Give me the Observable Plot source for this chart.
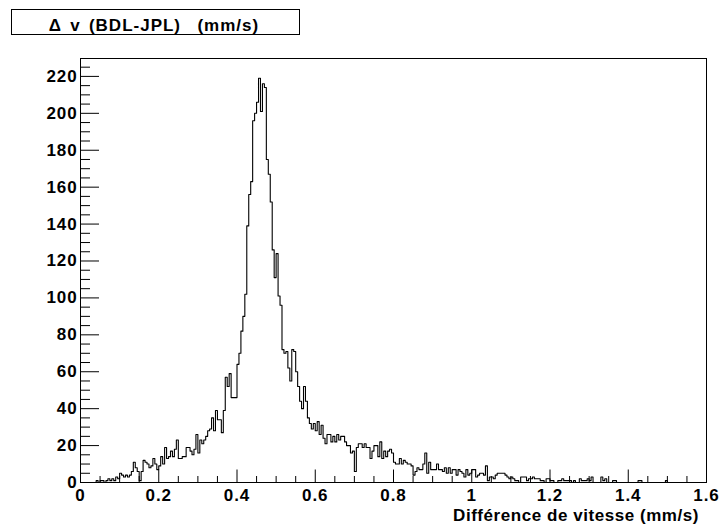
<!DOCTYPE html>
<html>
<head>
<meta charset="utf-8">
<script src="https://cdn.jsdelivr.net/npm/d3@7"></script>
<script src="https://cdn.jsdelivr.net/npm/@observablehq/plot@0.6"></script>
<style>
  html, body { margin: 0; padding: 0; background: #fff; }
  #wrap { position: relative; width: 719px; height: 531px; }
  #wrap svg.overlay { position: absolute; left: 0; top: 0; pointer-events: none; }
</style>
</head>
<body>
<div id="wrap"></div>
<script>
// Histogram: 320 bins of width 0.005 over [0, 1.6]
const binStart = 0;
const binWidth = 0.005;
const xMax = 1.6;
const yMax = 229.7;

const countsA = [ // bins 0-79
  0,0,0,0,0,0,0,0,1,0,
  1,1,0,1,2,1,2,1,3,2,
  5,4,3,4,3,4,6,11,8,6,
  1,6,12,11,10,8,9,13,10,7,
  9,14,10,19,13,14,17,14,18,23,
  13,13,14,14,19,19,17,15,18,26,
  16,23,21,23,25,28,29,35,28,39,
  34,34,27,39,57,52,59,46,46,46
];
const countsB = [ // bins 80-159
  64,70,82,90,102,139,156,163,196,200,
  206,219,201,216,214,175,167,152,126,111,
  124,101,96,72,70,71,62,55,72,71,
  60,52,44,40,52,44,35,32,29,32,
  28,33,26,31,24,21,26,26,22,25,
  22,26,23,25,25,22,20,20,16,17,
  6,19,21,21,19,21,19,19,13,17,
  20,20,14,22,13,17,14,17,18,16
];
const countsC = [ // bins 160-239
  11,10,10,13,10,12,11,10,10,9,
  4,6,8,7,7,10,16,5,11,7,
  7,7,10,7,7,6,8,5,8,5,
  7,7,4,7,6,5,3,7,4,5,
  7,7,3,4,5,5,4,9,1,3,
  3,2,4,5,5,5,5,4,3,2,
  3,2,1,1,0,3,3,3,1,2,
  2,3,2,2,2,1,1,0,2,2
];
const countsD = [ // bins 240-319
  1,1,0,0,1,1,2,1,1,1,
  1,0,1,0,0,2,1,1,1,2,
  1,3,0,0,0,0,3,1,2,0,
  0,0,1,1,0,0,0,0,0,0,
  0,0,0,0,0,1,1,0,0,0,
  0,0,0,0,0,0,0,0,0,1,
  0,0,0,0,0,0,0,0,0,0,
  0,0,0,0,0,0,0,0,0,0
];

const xMajor = [0, 0.2, 0.4, 0.6, 0.8, 1, 1.2, 1.4, 1.6];
const xLabels = ["0", "0.2", "0.4", "0.6", "0.8", "1", "1.2", "1.4", "1.6"];
const yMajor = [0, 20, 40, 60, 80, 100, 120, 140, 160, 180, 200, 220];
const xMinorStep = 0.05;
const yMinorStep = 5;

const titleText = "\u0394 v (BDL-JPL)  (mm/s)";
const xTitle = "Diff\u00e9rence de vitesse (mm/s)";

const counts = [...countsA, ...countsB, ...countsC, ...countsD];
const steps = counts.map((c, i) => ({x: binStart + i * binWidth, y: c}));
steps.push({x: binStart + counts.length * binWidth, y: counts[counts.length - 1]});

const xMinor = d3.range(0, xMax + 1e-9, xMinorStep).filter(v => !xMajor.some(m => Math.abs(m - v) < 1e-9));
const yMinor = d3.range(0, yMax, yMinorStep).filter(v => v % 20 !== 0);

const W = 719, H = 531;
const mT = 58, mB = 49, mL = 80, mR = 13;
const fw = W - mL - mR, fh = H - mT - mB;

const font = "'Liberation Sans', Arial, Helvetica, sans-serif";

const chart = Plot.plot({
  width: W, height: H,
  marginTop: mT, marginBottom: mB, marginLeft: mL, marginRight: mR,
  x: {domain: [0, xMax], label: null},
  y: {domain: [0, yMax], label: null},
  style: {fontFamily: font, fontSize: "17px", fontWeight: "bold", color: "#000", background: "#fff", letterSpacing: "0.9px"},
  marks: [
    Plot.line(steps, {x: "x", y: "y", curve: "step-after", stroke: "#000", strokeWidth: 1.1}),
    Plot.tickY(yMajor, {y: d => d, insetRight: fw - 19, stroke: "#000"}),
    Plot.tickY(yMinor, {y: d => d, insetRight: fw - 10, stroke: "#000"}),
    Plot.tickX(xMajor, {x: d => d, insetTop: fh - 12.5, stroke: "#000"}),
    Plot.tickX(xMinor, {x: d => d, insetTop: fh - 6, stroke: "#000"}),
    Plot.axisY(yMajor, {tickSize: 0, tickPadding: 3, fontSize: 17, fontWeight: "bold", label: null}),
    Plot.axisX(xMajor, {tickSize: 0, tickPadding: 6, fontSize: 17, fontWeight: "bold", label: null,
      tickFormat: d => xLabels[xMajor.indexOf(d)]}),
    Plot.frame({stroke: "#000"})
  ]
});

const wrap = document.getElementById("wrap");
wrap.appendChild(chart);

// Title box and axis title overlay
const ov = d3.select(wrap).append("svg")
  .attr("class", "overlay")
  .attr("width", W).attr("height", H)
  .style("font-family", font).style("font-weight", "bold");
ov.append("rect")
  .attr("x", 11.5).attr("y", 9.5).attr("width", 288).attr("height", 25)
  .attr("fill", "#fff").attr("stroke", "#000").attr("stroke-width", 1);
ov.append("text")
  .attr("x", 154).attr("y", 31)
  .attr("text-anchor", "middle")
  .style("font-size", "17px")
  .style("letter-spacing", "1px")
  .style("word-spacing", "2.5px")
  .style("white-space", "pre")
  .attr("xml:space", "preserve")
  .text(titleText);
ov.append("text")
  .attr("x", 699).attr("y", 521)
  .attr("text-anchor", "end")
  .style("font-size", "17px")
  .style("letter-spacing", "0.55px")
  .text(xTitle);
</script>
</body>
</html>
